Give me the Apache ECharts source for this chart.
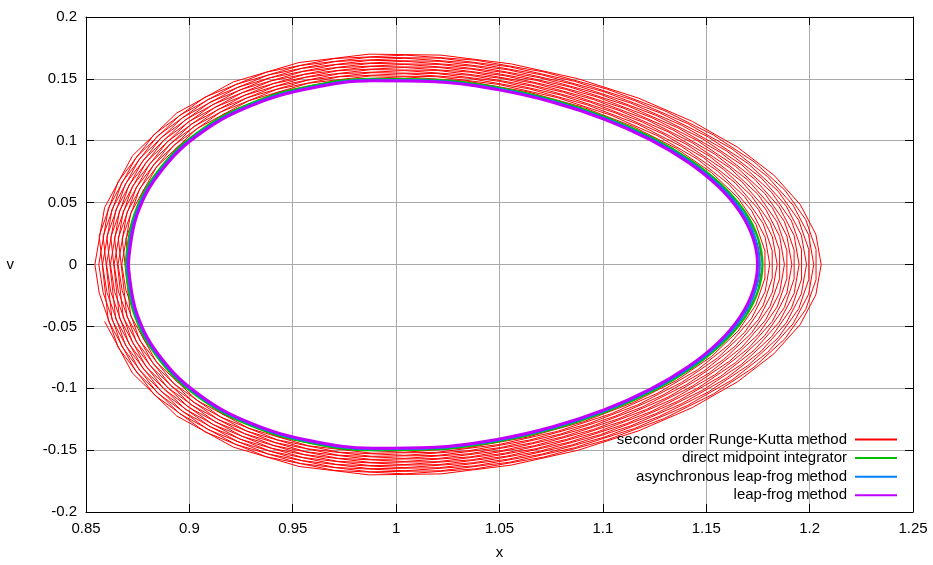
<!DOCTYPE html>
<html>
<head>
<meta charset="utf-8">
<script src="https://cdn.jsdelivr.net/npm/echarts@6/dist/echarts.min.js"></script>
<style>
  html, body { margin: 0; padding: 0; background: #fff; }
  #main { width: 933px; height: 565px; }
</style>
</head>
<body>
<div id="main"></div>
<script>
// axes
var xTicks = [0.85, 0.9, 0.95, 1, 1.05, 1.1, 1.15, 1.2, 1.25];
var vTicks = [-0.2, -0.15, -0.1, -0.05, 0, 0.05, 0.1, 0.15, 0.2];

var seriesNames = ['second order Runge-Kutta method', 'direct midpoint integrator',
    'asynchronous leap-frog method', 'leap-frog method'];

// second order Runge-Kutta: spiral, one row = one revolution, [x, v]
var rungeKutta = [
    [[.8692,0],[.8734,.0406],[.8858,.0776],[.9051,.1080],[.9299,.1303],[.9583,.1441],[.9885,.1501],[1.0191,.1493],[1.0488,.1431],[1.0767,.1326],[1.1021,.1186],[1.1244,.1021],[1.1431,.0836],[1.1579,.0637],[1.1686,.0429],[1.1750,.0216],[1.1772,0],[1.1750,-.0216],[1.1686,-.0429],[1.1579,-.0637],[1.1431,-.0836],[1.1244,-.1021],[1.1021,-.1186],[1.0767,-.1326],[1.0488,-.1431],[1.0191,-.1493],[.9885,-.1501],[.9583,-.1441],[.9299,-.1303],[.9051,-.1080],[.8858,-.0776],[.8734,-.0406]],
    [[.8693,.0207],[.8778,.0603],[.8939,.0945],[.9163,.1212],[.9433,.1394],[.9731,.1492],[1.0039,.1517],[1.0345,.1481],[1.0636,.1395],[1.0906,.1270],[1.1147,.1115],[1.1355,.0938],[1.1525,.0744],[1.1654,.0538],[1.1740,.0326],[1.1784,.0109],[1.1784,-.0109],[1.1740,-.0326],[1.1654,-.0538],[1.1525,-.0744],[1.1355,-.0938],[1.1147,-.1115],[1.0906,-.1270],[1.0636,-.1395],[1.0345,-.1481],[1.0039,-.1517],[.9731,-.1492],[.9433,-.1394],[.9163,-.1212],[.8939,-.0945],[.8778,-.0603],[.8693,-.0207]],
    [[.8673,0],[.8716,.0413],[.8841,.0789],[.9037,.1098],[.9288,.1324],[.9576,.1465],[.9884,.1525],[1.0195,.1518],[1.0497,.1455],[1.0781,.1348],[1.1040,.1206],[1.1267,.1038],[1.1458,.0850],[1.1610,.0648],[1.1719,.0436],[1.1785,.0219],[1.1807,0],[1.1785,-.0219],[1.1719,-.0436],[1.1610,-.0648],[1.1458,-.0850],[1.1267,-.1038],[1.1040,-.1206],[1.0781,-.1348],[1.0497,-.1455],[1.0195,-.1518],[.9884,-.1525],[.9576,-.1465],[.9288,-.1324],[.9037,-.1098],[.8841,-.0789],[.8716,-.0413]],
    [[.8675,.0211],[.8760,.0613],[.8923,.0961],[.9151,.1232],[.9424,.1416],[.9726,.1517],[1.0040,.1542],[1.0350,.1505],[1.0647,.1418],[1.0922,.1291],[1.1169,.1134],[1.1381,.0953],[1.1554,.0756],[1.1686,.0547],[1.1775,.0331],[1.1819,.0111],[1.1819,-.0111],[1.1775,-.0331],[1.1686,-.0547],[1.1554,-.0756],[1.1381,-.0953],[1.1169,-.1134],[1.0922,-.1291],[1.0647,-.1418],[1.0350,-.1505],[1.0040,-.1542],[.9726,-.1517],[.9424,-.1416],[.9151,-.1232],[.8923,-.0961],[.8760,-.0613],[.8675,-.0211]],
    [[.8655,0],[.8698,.0420],[.8825,.0802],[.9023,.1116],[.9277,.1346],[.9570,.1489],[.9882,.1550],[1.0198,.1543],[1.0506,.1479],[1.0795,.1370],[1.1059,.1226],[1.1291,.1055],[1.1486,.0864],[1.1641,.0658],[1.1753,.0444],[1.1820,.0223],[1.1843,0],[1.1820,-.0223],[1.1753,-.0444],[1.1641,-.0658],[1.1486,-.0864],[1.1291,-.1055],[1.1059,-.1226],[1.0795,-.1370],[1.0506,-.1479],[1.0198,-.1543],[.9882,-.1550],[.9570,-.1489],[.9277,-.1346],[.9023,-.1116],[.8825,-.0802],[.8698,-.0420]],
    [[.8656,.0214],[.8743,.0622],[.8908,.0976],[.9138,.1252],[.9416,.1439],[.9722,.1541],[1.0040,.1567],[1.0356,.1529],[1.0659,.1441],[1.0939,.1312],[1.1190,.1152],[1.1406,.0969],[1.1584,.0768],[1.1718,.0556],[1.1809,.0336],[1.1855,.0113],[1.1855,-.0113],[1.1809,-.0336],[1.1718,-.0556],[1.1584,-.0768],[1.1406,-.0969],[1.1190,-.1152],[1.0939,-.1312],[1.0659,-.1441],[1.0356,-.1529],[1.0040,-.1567],[.9722,-.1541],[.9416,-.1439],[.9138,-.1252],[.8908,-.0976],[.8743,-.0622],[.8656,-.0214]],
    [[.8636,0],[.8680,.0427],[.8808,.0814],[.9009,.1134],[.9267,.1367],[.9563,.1513],[.9880,.1575],[1.0201,.1568],[1.0514,.1503],[1.0809,.1392],[1.1078,.1245],[1.1315,.1072],[1.1514,.0877],[1.1672,.0669],[1.1786,.0451],[1.1855,.0227],[1.1878,0],[1.1855,-.0227],[1.1786,-.0451],[1.1672,-.0669],[1.1514,-.0877],[1.1315,-.1072],[1.1078,-.1245],[1.0809,-.1392],[1.0514,-.1503],[1.0201,-.1568],[.9880,-.1575],[.9563,-.1513],[.9267,-.1367],[.9009,-.1134],[.8808,-.0814],[.8680,-.0427]],
    [[.8638,.0217],[.8725,.0632],[.8893,.0992],[.9126,.1272],[.9407,.1462],[.9718,.1566],[1.0041,.1592],[1.0362,.1554],[1.0670,.1464],[1.0955,.1333],[1.1211,.1171],[1.1432,.0984],[1.1613,.0781],[1.1751,.0565],[1.1843,.0342],[1.1890,.0114],[1.1890,-.0114],[1.1843,-.0342],[1.1751,-.0565],[1.1613,-.0781],[1.1432,-.0984],[1.1211,-.1171],[1.0955,-.1333],[1.0670,-.1464],[1.0362,-.1554],[1.0041,-.1592],[.9718,-.1566],[.9407,-.1462],[.9126,-.1272],[.8893,-.0992],[.8725,-.0632],[.8638,-.0217]],
    [[.8618,0],[.8662,.0433],[.8791,.0827],[.8995,.1152],[.9256,.1389],[.9557,.1536],[.9878,.1600],[1.0204,.1593],[1.0523,.1526],[1.0823,.1414],[1.1097,.1265],[1.1338,.1088],[1.1542,.0891],[1.1703,.0679],[1.1820,.0458],[1.1890,.0230],[1.1914,0],[1.1890,-.0230],[1.1820,-.0458],[1.1703,-.0679],[1.1542,-.0891],[1.1338,-.1088],[1.1097,-.1265],[1.0823,-.1414],[1.0523,-.1526],[1.0204,-.1593],[.9878,-.1600],[.9557,-.1536],[.9256,-.1389],[.8995,-.1152],[.8791,-.0827],[.8662,-.0433]],
    [[.8620,.0221],[.8708,.0642],[.8877,.1007],[.9113,.1292],[.9398,.1485],[.9714,.1590],[1.0042,.1617],[1.0368,.1578],[1.0681,.1487],[1.0972,.1354],[1.1233,.1189],[1.1458,.1000],[1.1642,.0793],[1.1783,.0574],[1.1878,.0347],[1.1925,.0116],[1.1925,-.0116],[1.1878,-.0347],[1.1783,-.0574],[1.1642,-.0793],[1.1458,-.1000],[1.1233,-.1189],[1.0972,-.1354],[1.0681,-.1487],[1.0368,-.1578],[1.0042,-.1617],[.9714,-.1590],[.9398,-.1485],[.9113,-.1292],[.8877,-.1007],[.8708,-.0642],[.8620,-.0221]],
    [[.8599,0],[.8644,.0440],[.8775,.0840],[.8981,.1170],[.9245,.1411],[.9550,.1560],[.9876,.1625],[1.0208,.1617],[1.0531,.1550],[1.0837,.1436],[1.1116,.1285],[1.1362,.1105],[1.1569,.0905],[1.1734,.0690],[1.1853,.0465],[1.1925,.0234],[1.1949,0],[1.1925,-.0234],[1.1853,-.0465],[1.1734,-.0690],[1.1569,-.0905],[1.1362,-.1105],[1.1116,-.1285],[1.0837,-.1436],[1.0531,-.1550],[1.0208,-.1617],[.9876,-.1625],[.9550,-.1560],[.9245,-.1411],[.8981,-.1170],[.8775,-.0840],[.8644,-.0440]],
    [[.8601,.0224],[.8691,.0652],[.8862,.1023],[.9101,.1312],[.9389,.1508],[.9709,.1615],[1.0042,.1642],[1.0374,.1602],[1.0692,.1510],[1.0988,.1375],[1.1254,.1207],[1.1483,.1015],[1.1672,.0805],[1.1816,.0583],[1.1912,.0353],[1.1961,.0118],[1.1961,-.0118],[1.1912,-.0353],[1.1816,-.0583],[1.1672,-.0805],[1.1483,-.1015],[1.1254,-.1207],[1.0988,-.1375],[1.0692,-.1510],[1.0374,-.1602],[1.0042,-.1642],[.9709,-.1615],[.9389,-.1508],[.9101,-.1312],[.8862,-.1023],[.8691,-.0652],[.8601,-.0224]],
    [[.8580,0],[.8626,.0447],[.8758,.0853],[.8967,.1187],[.9235,.1432],[.9543,.1584],[.9874,.1650],[1.0211,.1642],[1.0540,.1574],[1.0851,.1458],[1.1135,.1304],[1.1385,.1122],[1.1597,.0919],[1.1765,.0701],[1.1887,.0472],[1.1960,.0237],[1.1985,0],[1.1960,-.0237],[1.1887,-.0472],[1.1765,-.0701],[1.1597,-.0919],[1.1385,-.1122],[1.1135,-.1304],[1.0851,-.1458],[1.0540,-.1574],[1.0211,-.1642],[.9874,-.1650],[.9543,-.1584],[.9235,-.1432],[.8967,-.1187],[.8758,-.0853],[.8626,-.0447]],
    [[.8583,.0228],[.8673,.0662],[.8846,.1039],[.9088,.1332],[.9381,.1531],[.9705,.1640],[1.0043,.1667],[1.0380,.1627],[1.0704,.1533],[1.1005,.1396],[1.1275,.1226],[1.1509,.1031],[1.1701,.0817],[1.1848,.0592],[1.1947,.0358],[1.1996,.0120],[1.1996,-.0120],[1.1947,-.0358],[1.1848,-.0592],[1.1701,-.0817],[1.1509,-.1031],[1.1275,-.1226],[1.1005,-.1396],[1.0704,-.1533],[1.0380,-.1627],[1.0043,-.1667],[.9705,-.1640],[.9381,-.1531],[.9088,-.1332],[.8846,-.1039],[.8673,-.0662],[.8583,-.0228]],
    [[.8562,0],[.8608,.0454],[.8742,.0866],[.8953,.1205],[.9224,.1454],[.9537,.1608],[.9872,.1675],[1.0214,.1667],[1.0548,.1598],[1.0864,.1480],[1.1154,.1324],[1.1409,.1139],[1.1625,.0933],[1.1796,.0711],[1.1920,.0479],[1.1995,.0241],[1.2020,0],[1.1995,-.0241],[1.1920,-.0479],[1.1796,-.0711],[1.1625,-.0933],[1.1409,-.1139],[1.1154,-.1324],[1.0864,-.1480],[1.0548,-.1598],[1.0214,-.1667],[.9872,-.1675],[.9537,-.1608],[.9224,-.1454],[.8953,-.1205],[.8742,-.0866],[.8608,-.0454]],
    [[.8564,.0231],[.8656,.0672],[.8831,.1054],[.9075,.1352],[.9372,.1554],[.9701,.1664],[1.0044,.1692],[1.0386,.1651],[1.0715,.1556],[1.1021,.1417],[1.1297,.1244],[1.1535,.1046],[1.1731,.0830],[1.1880,.0601],[1.1981,.0363],[1.2031,.0122],[1.2031,-.0122],[1.1981,-.0363],[1.1880,-.0601],[1.1731,-.0830],[1.1535,-.1046],[1.1297,-.1244],[1.1021,-.1417],[1.0715,-.1556],[1.0386,-.1651],[1.0044,-.1692],[.9701,-.1664],[.9372,-.1554],[.9075,-.1352],[.8831,-.1054],[.8656,-.0672],[.8564,-.0231]],
    [[.8543,0],[.8590,.0460],[.8725,.0879],[.8938,.1223],[.9213,.1476],[.9530,.1632],[.9870,.1700],[1.0217,.1692],[1.0557,.1621],[1.0878,.1502],[1.1173,.1344],[1.1433,.1156],[1.1652,.0947],[1.1827,.0722],[1.1954,.0486],[1.2030,.0245],[1.2056,0],[1.2030,-.0245],[1.1954,-.0486],[1.1827,-.0722],[1.1652,-.0947],[1.1433,-.1156],[1.1173,-.1344],[1.0878,-.1502],[1.0557,-.1621],[1.0217,-.1692],[.9870,-.1700],[.9530,-.1632],[.9213,-.1476],[.8938,-.1223],[.8725,-.0879],[.8590,-.0460]]
];

// direct midpoint integrator
var midpoint = [[.8692,0],[.8734,.0406],[.8858,.0776],[.9051,.1080],[.9299,.1303],[.9583,.1441],[.9885,.1501],[1.0191,.1493],[1.0488,.1431],[1.0767,.1326],[1.1021,.1186],[1.1244,.1021],[1.1431,.0836],[1.1579,.0637],[1.1686,.0429],[1.1750,.0216],[1.1772,0],[1.1750,-.0216],[1.1686,-.0429],[1.1579,-.0637],[1.1431,-.0836],[1.1244,-.1021],[1.1021,-.1186],[1.0767,-.1326],[1.0488,-.1431],[1.0191,-.1493],[.9885,-.1501],[.9583,-.1441],[.9299,-.1303],[.9051,-.1080],[.8858,-.0776],[.8734,-.0406],[.8692,0]];

// asynchronous leap-frog
var asyncLeapFrog = [[.8699,0],[.8741,.0404],[.8864,.0771],[.9056,.1073],[.9303,.1295],[.9585,.1432],[.9886,.1492],[1.0190,.1484],[1.0485,.1423],[1.0762,.1318],[1.1014,.1179],[1.1235,.1015],[1.1421,.0831],[1.1568,.0633],[1.1674,.0427],[1.1737,.0215],[1.1759,0],[1.1737,-.0215],[1.1674,-.0427],[1.1568,-.0633],[1.1421,-.0831],[1.1235,-.1015],[1.1014,-.1179],[1.0762,-.1318],[1.0485,-.1423],[1.0190,-.1484],[.9886,-.1492],[.9585,-.1432],[.9303,-.1295],[.9056,-.1073],[.8864,-.0771],[.8741,-.0404],[.8699,0]];

// leap-frog
var leapFrog = [[.8705,0],[.8747,.0402],[.8869,.0767],[.9061,.1068],[.9306,.1288],[.9587,.1424],[.9887,.1484],[1.0189,.1476],[1.0483,.1415],[1.0758,.1311],[1.1008,.1173],[1.1228,.1009],[1.1412,.0826],[1.1558,.0630],[1.1663,.0424],[1.1726,.0213],[1.1748,0],[1.1726,-.0213],[1.1663,-.0424],[1.1558,-.0630],[1.1412,-.0826],[1.1228,-.1009],[1.1008,-.1173],[1.0758,-.1311],[1.0483,-.1415],[1.0189,-.1476],[.9887,-.1484],[.9587,-.1424],[.9306,-.1288],[.9061,-.1068],[.8869,-.0767],[.8747,-.0402],[.8705,0]];

var colors = ['#ff0000', '#00c000', '#0080ff', '#c000ff'];

(function() {
    var chart = echarts.init(document.getElementById('main'), null, {renderer: 'canvas'});
    var font = 'Liberation Sans, Arial, sans-serif';

    // one continuous path for the spiral
    var rkPath = [];
    rungeKutta.forEach(function(loop) {
        rkPath = rkPath.concat(loop);
    });

    function fmt(val) {
        return String(parseFloat(val.toFixed(2)));
    }

    function axis(pos, ticks, labels, name) {
        var horiz = pos === 'bottom' || pos === 'top';
        return {
            type: 'value',
            position: pos,
            min: ticks[0],
            max: ticks[ticks.length - 1],
            interval: 0.05,
            name: name || '',
            nameLocation: 'middle',
            nameGap: horiz ? 33 : 72,
            nameRotate: 0,
            nameTextStyle: {color: '#000', fontSize: 15, fontFamily: font},
            axisLine: {show: true, onZero: false, lineStyle: {color: '#000', width: 1}},
            axisTick: {show: true, inside: true, length: 8, lineStyle: {color: '#000'}},
            axisLabel: {
                show: labels,
                color: '#000',
                fontSize: 15,
                fontFamily: font,
                margin: 9,
                formatter: fmt
            },
            splitLine: {show: labels, lineStyle: {color: '#a9a9a9', width: 1}}
        };
    }

    var option = {
        animation: false,
        backgroundColor: '#fff',
        grid: {left: 86, right: 20, top: 17, bottom: 51, containLabel: false},
        xAxis: [axis('bottom', xTicks, true, 'x'), axis('top', xTicks, false)],
        yAxis: [axis('left', vTicks, true, 'v'), axis('right', vTicks, false)],
        legend: {
            orient: 'vertical',
            align: 'right',
            right: 36,
            top: 432,
            padding: 0,
            icon: 'rect',
            itemWidth: 42,
            itemHeight: 2,
            itemGap: 3.6,
            textStyle: {color: '#000', fontSize: 15, fontFamily: font, padding: [0, 3, 0, 0]},
            data: seriesNames
        },
        series: [
            {name: seriesNames[0], data: rkPath, width: 1},
            {name: seriesNames[1], data: midpoint, width: 2.2, smooth: 0.4},
            {name: seriesNames[2], data: asyncLeapFrog, width: 2.2, smooth: 0.4},
            {name: seriesNames[3], data: leapFrog, width: 3, smooth: 0.4}
        ].map(function(s, i) {
            return {
                name: s.name,
                type: 'line',
                data: s.data,
                smooth: s.smooth || false,
                showSymbol: false,
                symbol: 'none',
                sampling: null,
                lineStyle: {color: colors[i], width: s.width},
                itemStyle: {color: colors[i]},
                z: 2 + i
            };
        })
    };
    chart.setOption(option);
})();
</script>
</body>
</html>
